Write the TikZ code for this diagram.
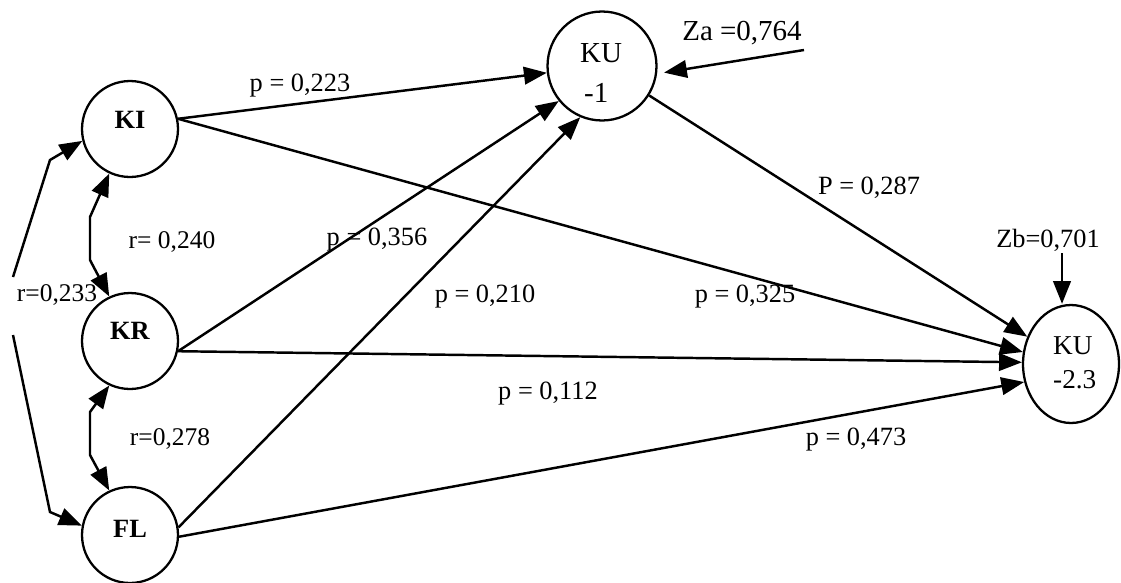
\documentclass[tikz,border=0pt]{standalone}
\usepackage{fontspec}
\setmainfont{Liberation Serif}
\usetikzlibrary{arrows.meta,calc,shapes.geometric}
\begin{document}
\begin{tikzpicture}[x=0.02cm,y=-0.02cm,
  line width=1.4pt,
  circ/.style={draw,circle,line width=1.3pt,inner sep=0pt,minimum size=1.92cm},
  arr/.style={-{Triangle[length=13pt,width=10pt]}},
  darr/.style={{Triangle[length=13pt,width=10pt]}-{Triangle[length=13pt,width=10pt]}},
  lab/.style={font=\fontsize{15}{18}\selectfont,inner sep=0pt},
  vname/.style={font=\bfseries\fontsize{15}{16}\selectfont,inner sep=0pt},
  kname/.style={font=\fontsize{16.5}{18}\selectfont,inner sep=0pt,anchor=west},
  kname2/.style={font=\fontsize{15.5}{18}\selectfont,inner sep=0pt,anchor=west}
]
\useasboundingbox (0,0) rectangle (1121,582);

% latent / observed variables
\node[circ] (KI) at (130,129) {};
\node[circ] (KR) at (130,341) {};
\node[circ] (FL) at (130,535) {};
\node[circ,minimum size=2.18cm] (KU1) at (602,66) {};
\node[draw,ellipse,line width=1.3pt,minimum width=1.92cm,minimum height=2.36cm,inner sep=0pt] (KU23) at (1071,364) {};

\node[vname] (KIt) at (130,120) {KI};
\node[vname] (KRt) at (130,331) {KR};
\node[vname] (FLt) at (130,529) {FL};
\node[kname] (KU1a) at (579,53) {KU};
\node[kname] (KU1b) at (583,93) {-1};
\node[kname2] (KU23a) at (1052,346) {KU};
\node[kname2] (KU23b) at (1052,380) {-2.3};

% paths
\draw[arr] (KI.12) -- (KU1.187);
\draw[arr] (KI.12) -- (KU23.166);
\draw[arr] (KR.-12) -- (KU1.219);
\draw[arr] (KR.-12) -- (KU23.178);
\draw[arr] (FL.9) -- (KU1.247);
\draw[arr] (FL.-2) -- (KU23.201);
\draw[arr] (KU1.-32) -- (KU23.148);

% residuals
\coordinate (zaS) at (804,50);
\draw[arr,shorten >=4pt] (zaS) -- (KU1.-8);
\coordinate (zbS) at (1062,253);
\draw[arr] (zbS) -- (zbS |- KU23.north);

% correlations
\coordinate (c1a) at (90,217);
\coordinate (c1b) at (90,260);
\draw[darr] (KI.245) -- (c1a) -- (c1b) -- (KR.115);
\coordinate (c2a) at (90,412);
\coordinate (c2b) at (90,455);
\draw[darr] (KR.245) -- (c2a) -- (c2b) -- (FL.115);
\coordinate (ra) at (13,277);
\coordinate (rak) at (50,160);
\draw[arr] (ra) -- (rak) -- (KI.194);
\coordinate (rb) at (13,335);
\coordinate (rbk) at (50,512);
\draw[arr] (rb) -- (rbk) -- (FL.169);

% labels
\node[lab] (l223) at (300,86) {p = 0,223};
\node[lab] (l356) at (377,240) {p = 0,356};
\node[lab] (l210) at (485,297) {p = 0,210};
\node[lab] (l112) at (548,394) {p = 0,112};
\node[lab] (l325) at (745,297) {p = 0,325};
\node[lab] (l287) at (869,188) {P = 0,287};
\node[lab] (l473) at (856,440) {p = 0,473};
\node[lab,font=\fontsize{16.5}{18}\selectfont] (lza) at (742,33) {Za =0,764};
\node[lab] (lzb) at (1048,240) {Zb=0,701};
\node[lab,font=\fontsize{14.5}{18}\selectfont] (r240) at (172,242) {r= 0,240};
\node[lab,font=\fontsize{14.5}{18}\selectfont] (r278) at (170,439) {r=0,278};
\node[lab,font=\fontsize{14.5}{18}\selectfont] (r233) at (57,295) {r=0,233};
\end{tikzpicture}
\end{document}
